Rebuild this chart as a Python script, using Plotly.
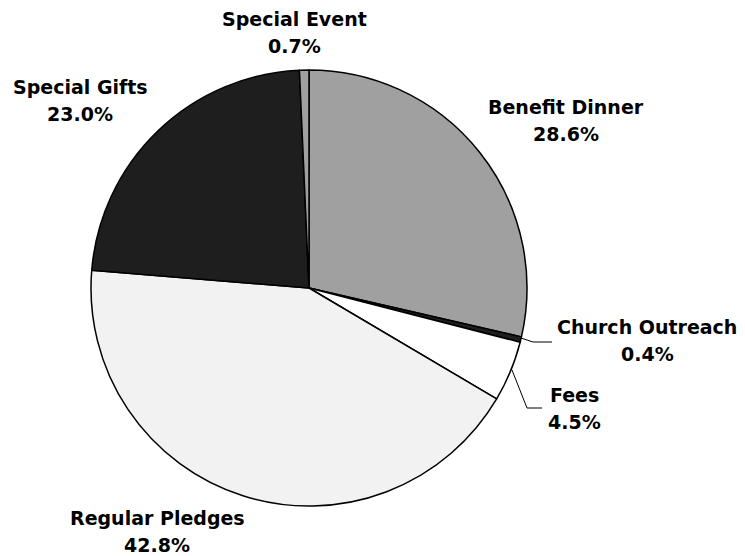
import plotly.graph_objects as go

labels = ["Benefit Dinner", "Church Outreach", "Fees", "Regular Pledges", "Special Gifts", "Special Event"]
values = [28.6, 0.4, 4.5, 42.8, 23.0, 0.7]
colors = ["#a0a0a0", "#1e1e1e", "#ffffff", "#f2f2f2", "#1e1e1e", "#a0a0a0"]

W, H = 745, 556
OFF = 8  # page body margin of the html page
FONT = "DejaVu Sans"
FS = 19
GAP = 27


def px(x):
    return (x - OFF) / W


def py(y):
    return 1 - (y - OFF) / H


# label centres (name line) in window pixels
label_pos = {
    "Benefit Dinner": (566, 107),
    "Church Outreach": (647, 327),
    "Fees": (574, 395),
    "Regular Pledges": (157, 518),
    "Special Gifts": (80, 87),
    "Special Event": (294, 19),
}

fig = go.Figure(go.Pie(
    labels=labels, values=values, sort=False, direction="clockwise", rotation=0,
    marker=dict(colors=colors, line=dict(color="#000000", width=1.5)),
    textinfo="none", hoverinfo="label+percent", showlegend=False,
    domain=dict(x=[px(91), px(527)], y=[py(506), py(70)]),
))

total = sum(values)
annotations = []
for lab, v in zip(labels, values):
    x, y = label_pos[lab]
    annotations.append(dict(x=px(x), y=py(y), xref="paper", yref="paper", text=f"<b>{lab}</b>",
                            showarrow=False, xanchor="center", yanchor="middle",
                            font=dict(family=FONT, size=FS, color="#000")))
    annotations.append(dict(x=px(x), y=py(y + GAP), xref="paper", yref="paper",
                            text=f"<b>{100 * v / total:.1f}%</b>", showarrow=False,
                            xanchor="center", yanchor="middle",
                            font=dict(family=FONT, size=FS, color="#000")))

shapes = [
    dict(type="path", xref="paper", yref="paper",
         path=f"M {px(521)},{py(338)} L {px(533)},{py(342)} L {px(552)},{py(342)}",
         line=dict(color="#000", width=1)),
    dict(type="path", xref="paper", yref="paper",
         path=f"M {px(512)},{py(370)} L {px(527)},{py(408)} L {px(542)},{py(408)}",
         line=dict(color="#000", width=1)),
]

fig.update_layout(
    width=W, height=H, margin=dict(l=0, r=0, t=0, b=0),
    paper_bgcolor="#ffffff", plot_bgcolor="#ffffff",
    annotations=annotations, shapes=shapes,
)

fig.write_html("out.html")
